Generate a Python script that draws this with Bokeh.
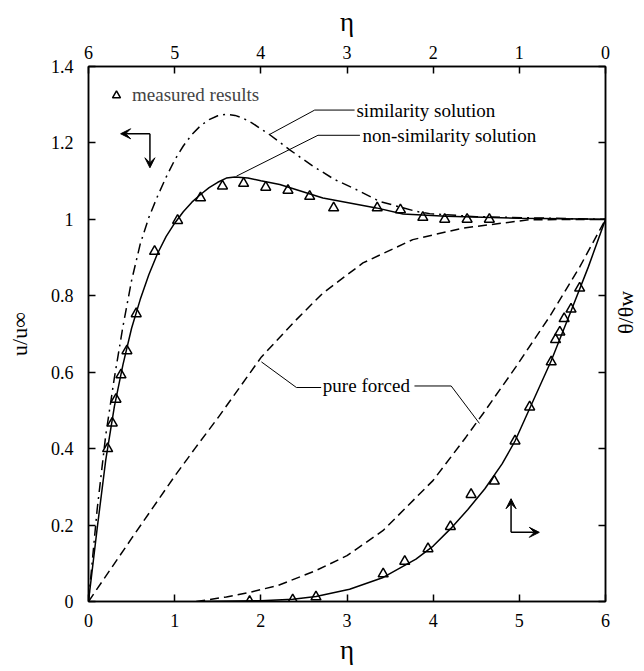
import math
from bokeh.plotting import figure
from bokeh.models import (Range1d, LinearAxis, FixedTicker, Label, Arrow, VeeHead,
                          CustomJSTickFormatter, Legend, LegendItem)
from bokeh.embed import file_html
from bokeh.resources import INLINE

# ---------------- data ----------------
# velocity u/u_inf versus eta (bottom axis)
eta_u_nonsim = [0, 0.1, 0.2, 0.3, 0.4, 0.5, 0.6, 0.7, 0.8, 0.9, 1.0, 1.1, 1.2, 1.3, 1.4,
                1.5, 1.6, 1.7, 1.85, 2.0, 2.22, 2.72, 3.34, 3.65, 4.15, 5.0, 6.0]
u_nonsim = [0, 0.19, 0.37, 0.51, 0.62, 0.715, 0.79, 0.855, 0.91, 0.955, 0.99, 1.02, 1.045,
            1.065, 1.083, 1.097, 1.108, 1.111, 1.108, 1.101, 1.091, 1.056, 1.030, 1.014,
            1.008, 1.003, 1.0]

eta_u_sim = [0, 0.1, 0.2, 0.3, 0.4, 0.5, 0.6, 0.7, 0.8, 0.9, 1.0, 1.1, 1.2, 1.3, 1.4, 1.5,
             1.6, 1.7, 1.8, 1.9, 2.0, 2.1, 2.2, 2.335, 2.6, 2.85, 3.107, 3.378, 3.80, 3.96,
             4.5, 6.0]
u_sim = [0, 0.24, 0.435, 0.585, 0.72, 0.84, 0.935, 1.005, 1.06, 1.11, 1.155, 1.192, 1.222,
         1.245, 1.261, 1.271, 1.275, 1.272, 1.264, 1.252, 1.237, 1.222, 1.205, 1.182, 1.14,
         1.105, 1.078, 1.047, 1.021, 1.015, 1.007, 1.0]

eta_u_pf = [0, 0.5, 1.0, 1.234, 1.5, 2.007, 2.41, 2.72, 3.185, 3.764, 4.343, 5.116, 6.0]
u_pf = [0, 0.165, 0.328, 0.40, 0.48, 0.64, 0.737, 0.807, 0.886, 0.947, 0.977, 0.999, 1.0]

eta_u_meas = [0.222, 0.276, 0.319, 0.377, 0.446, 0.554, 0.767, 1.034, 1.30, 1.555, 1.80,
              2.057, 2.315, 2.567, 2.845, 3.351, 3.62, 3.88, 4.134, 4.394, 4.652]
u_meas = [0.400, 0.467, 0.529, 0.593, 0.656, 0.753, 0.916, 0.997, 1.056, 1.087, 1.094,
          1.084, 1.076, 1.060, 1.030, 1.030, 1.025, 1.005, 1.0, 1.0, 1.0]

# temperature theta/theta_w versus eta (top axis, reversed)
eta_t_nonsim = [4.7, 4.0, 3.63, 3.36, 2.97, 2.58, 2.2, 2.0, 1.8, 1.6, 1.4, 1.2, 1.05,
                0.88, 0.63, 0.4, 0.2, 0.0]
t_nonsim = [0, 0.002, 0.006, 0.013, 0.032, 0.063, 0.111, 0.145, 0.19, 0.24, 0.295, 0.36,
            0.42, 0.505, 0.63, 0.76, 0.875, 1.0]

eta_t_pf = [4.75, 4.4, 4.13, 3.8, 3.36, 3.0, 2.58, 2.0, 1.62, 1.42, 1.04, 0.65, 0.3, 0.0]
t_pf = [0, 0.012, 0.024, 0.042, 0.081, 0.12, 0.186, 0.317, 0.43, 0.492, 0.614, 0.745,
        0.875, 1.0]

eta_t_meas = [4.13, 3.63, 3.36, 2.58, 2.33, 2.06, 1.8, 1.56, 1.29, 1.05, 0.88, 0.63, 0.58,
              0.53, 0.48, 0.4, 0.3]
t_meas = [0.0, 0.004, 0.012, 0.072, 0.105, 0.138, 0.196, 0.28, 0.315, 0.42, 0.509, 0.627,
          0.685, 0.705, 0.74, 0.765, 0.82]

x_ticks = [0, 1, 2, 3, 4, 5, 6]
y_ticks = [0, 0.2, 0.4, 0.6, 0.8, 1, 1.2, 1.4]
y_tick_labels = ["0", "0.2", "0.4", "0.6", "0.8", "1", "1.2", "1.4"]

FONT = "Liberation Serif"

# ---------------- figure ----------------
p = figure(frame_width=517, frame_height=535, output_backend="svg", toolbar_location=None,
           x_range=Range1d(0, 6), y_range=Range1d(0, 1.4),
           min_border_left=88, min_border_right=0, min_border_top=66, min_border_bottom=0)
p.extra_x_ranges = {"top": Range1d(start=6, end=0)}
p.extra_y_ranges = {"theta": Range1d(0, 1.4)}
p.grid.visible = False
p.outline_line_color = "black"
p.outline_line_width = 1.5
p.background_fill_color = "white"
p.border_fill_color = "white"

def style_axis(ax, standoff, label, label_size, label_standoff):
    ax.ticker = FixedTicker(ticks=x_ticks)
    ax.major_tick_in = 7
    ax.major_tick_out = 0
    ax.minor_tick_line_color = None
    ax.axis_line_color = "black"
    ax.axis_line_width = 1.5
    ax.major_tick_line_width = 1.5
    ax.major_label_text_font = FONT
    ax.major_label_text_font_size = "18px"
    ax.major_label_text_color = "black"
    ax.major_label_standoff = standoff
    ax.axis_label = label
    ax.axis_label_text_font = FONT
    ax.axis_label_text_font_style = "normal"
    ax.axis_label_text_font_size = label_size
    ax.axis_label_text_color = "black"
    ax.axis_label_standoff = label_standoff

style_axis(p.xaxis[0], 12, "η", "27px", 5)
style_axis(p.yaxis[0], 15, "u/u∞", "22px", 16)
p.yaxis[0].ticker = FixedTicker(ticks=y_ticks)
p.yaxis[0].major_label_overrides = dict(zip(y_ticks, y_tick_labels))

top_ax = LinearAxis(x_range_name="top")
style_axis(top_ax, 8, "η", "27px", 6)
p.add_layout(top_ax, "above")

right_ax = LinearAxis(y_range_name="theta")
style_axis(right_ax, 0, "θ/θw", "22px", 20)
right_ax.ticker = FixedTicker(ticks=y_ticks)
right_ax.formatter = CustomJSTickFormatter(code="return ''")
if "axis_label_orientation" in right_ax.properties():
    right_ax.axis_label_orientation = math.pi / 2
p.add_layout(right_ax, "right")

# ---------------- curves ----------------
p.line(eta_u_sim, u_sim, line_color="black", line_width=1.5, line_dash="10 5 2 5")
p.line(eta_u_nonsim, u_nonsim, line_color="black", line_width=1.5)
p.line(eta_u_pf, u_pf, line_color="black", line_width=1.5, line_dash="9 5")
meas_r = p.scatter(eta_u_meas, u_meas, marker="triangle", size=10, fill_color=None,
                   line_color="black", line_width=1.5)

p.line(eta_t_nonsim, t_nonsim, x_range_name="top", y_range_name="theta",
       line_color="black", line_width=1.5)
p.line(eta_t_pf, t_pf, x_range_name="top", y_range_name="theta",
       line_color="black", line_width=1.5, line_dash="9 5")
p.scatter(eta_t_meas, t_meas, x_range_name="top", y_range_name="theta",
          marker="triangle", size=10, fill_color=None, line_color="black", line_width=1.5)

# ---------------- legend ----------------
legend = Legend(items=[LegendItem(label="measured results", renderers=[meas_r])],
                location="top_left", margin=18, padding=7, glyph_width=20,
                label_standoff=6, background_fill_alpha=0, border_line_color=None,
                label_text_font=FONT, label_text_font_size="19px")
p.add_layout(legend)

# ---------------- annotations ----------------
ann_font = dict(text_font=FONT, text_font_size="19px", text_color="black",
                text_baseline="middle")
p.add_layout(Label(x=3.11, y=1.286, text="similarity solution", **ann_font))
p.add_layout(Label(x=3.18, y=1.22, text="non-similarity solution", **ann_font))
p.add_layout(Label(x=2.72, y=0.564, text="pure forced", **ann_font))

leader_sim_x = [2.10, 2.625, 3.088]
leader_sim_y = [1.222, 1.286, 1.286]
leader_non_x = [1.717, 2.663, 3.15]
leader_non_y = [1.113, 1.22, 1.22]
leader_pf1_x = [2.007, 2.413, 2.70]
leader_pf1_y = [0.627, 0.56, 0.56]
leader_pf2_x = [3.783, 4.209, 4.537]
leader_pf2_y = [0.564, 0.564, 0.466]
for lx, ly in [(leader_sim_x, leader_sim_y), (leader_non_x, leader_non_y),
               (leader_pf1_x, leader_pf1_y), (leader_pf2_x, leader_pf2_y)]:
    p.line(lx, ly, line_color="black", line_width=1)

def arrow(x0, y0, x1, y1):
    p.add_layout(Arrow(x_start=x0, y_start=y0, x_end=x1, y_end=y1, line_width=1.5,
                       line_color="black",
                       end=VeeHead(size=10, fill_color="black", line_color="black")))

arrow(0.713, 1.224, 0.373, 1.224)
arrow(0.713, 1.224, 0.713, 1.135)
arrow(4.904, 0.181, 4.904, 0.269)
arrow(4.904, 0.181, 5.232, 0.181)

open("out.html", "w").write(file_html(p, INLINE))
